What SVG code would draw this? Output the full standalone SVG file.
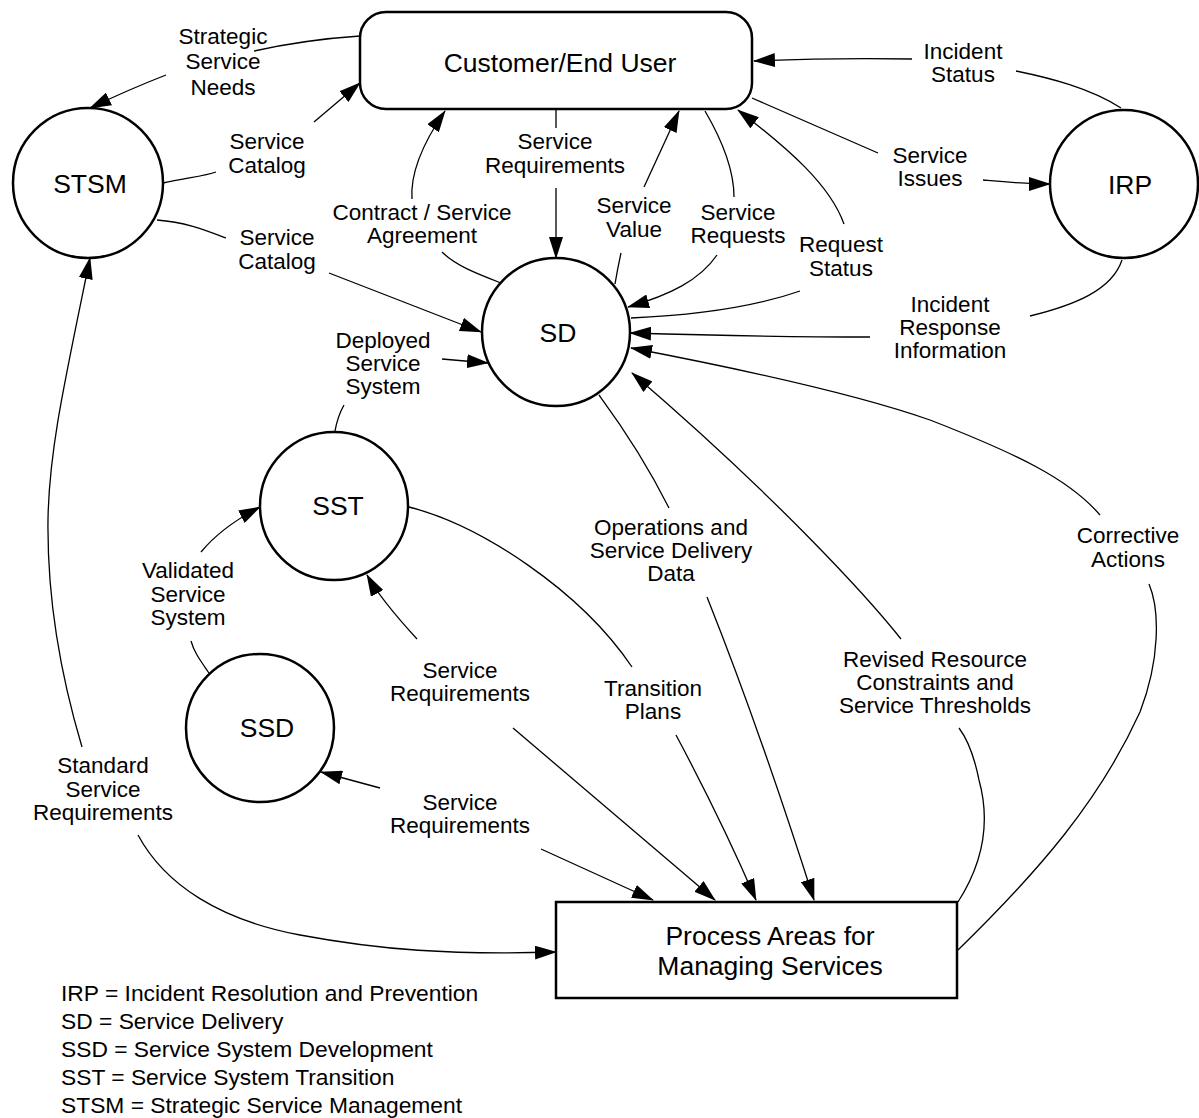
<svg xmlns="http://www.w3.org/2000/svg" width="1199" height="1118" viewBox="0 0 1199 1118">
<defs>
<marker id="arr" markerUnits="userSpaceOnUse" viewBox="0 0 22 14" markerWidth="22" markerHeight="14" refX="21" refY="7" orient="auto">
<path d="M0,0 L22,7 L0,14 z" fill="#000"/>
</marker>
<style>
.node{fill:#fff;stroke:#000;stroke-width:2.5}
.title{font-family:"Liberation Sans",Arial,sans-serif;font-size:26.5px;fill:#000;text-anchor:middle}
.lbl{font-family:"Liberation Sans",Arial,sans-serif;font-size:22.5px;fill:#000;text-anchor:middle}
.leg{font-family:"Liberation Sans",Arial,sans-serif;font-size:22.8px;fill:#000}
.c{fill:none;stroke:#000;stroke-width:1.3}
.a{marker-end:url(#arr)}
</style>
</defs>
<rect width="1199" height="1118" fill="#fff"/>

<g id="connectors">
<path class="c" d="M360,36 C330,38 290,43 254,51"/>
<path class="c a" d="M166,75 Q130,89 90,108"/>
<path class="c" d="M163,183 C185,178 205,176 216,172"/>
<path class="c a" d="M314,122 L360,83"/>
<path class="c" d="M157,220 C185,222 205,230 226,238"/>
<path class="c a" d="M329,273 L481,332"/>
<path class="c" d="M501,283 C475,273 455,265 442,252"/>
<path class="c a" d="M412,199 C410,170 425,140 445,111"/>
<path class="c" d="M556,110 L556,128"/>
<path class="c a" d="M556,188 L556,258"/>
<path class="c" d="M615,284 C617,272 619,262 621,253"/>
<path class="c a" d="M644,187 L679,111"/>
<path class="c" d="M705,111 C722,140 734,170 734,197"/>
<path class="c a" d="M717,255 C700,280 670,295 628,307"/>
<path class="c" d="M631,318 C700,315 760,305 800,291"/>
<path class="c a" d="M844,224 C830,185 790,150 738,110"/>
<path class="c" d="M1121,108 C1090,88 1050,78 1016,71"/>
<path class="c a" d="M912,59 C850,58 800,59 754,61"/>
<path class="c" d="M752,98 L878,153"/>
<path class="c a" d="M983,180 C1005,182 1025,184 1050,184"/>
<path class="c" d="M1122,260 C1112,290 1075,305 1030,316"/>
<path class="c a" d="M870,337 C780,337 700,335 630,333"/>
<path class="c" d="M958,950 C1040,870 1100,800 1140,712 C1160,660 1160,610 1149,584"/>
<path class="c a" d="M1100,515 C1070,480 1020,455 930,420 C850,392 720,365 631,348"/>
<path class="c" d="M958,902 C985,860 990,820 979,780 C975,760 968,740 959,728"/>
<path class="c a" d="M901,639 C870,600 780,500 632,373"/>
<path class="c" d="M599,395 C610,410 640,450 669,508"/>
<path class="c a" d="M707,597 Q760,730 814,900"/>
<path class="c" d="M409,507 C480,525 580,590 632,667"/>
<path class="c a" d="M676,735 C700,780 730,840 756,900"/>
<path class="c a" d="M417,639 C395,615 378,595 367,575"/>
<path class="c a" d="M513,728 L715,900"/>
<path class="c a" d="M380,788 L321,772"/>
<path class="c a" d="M541,849 L653,900"/>
<path class="c" d="M209,673 C200,660 194,652 191,641"/>
<path class="c a" d="M201,552 C215,535 235,520 260,507"/>
<path class="c" d="M335,431 C337,420 340,412 344,405"/>
<path class="c a" d="M442,359 L488,363"/>
<path class="c a" d="M82,747 C62,680 47,600 48,520 C49,450 65,380 90,258"/>
<path class="c a" d="M138,835 C165,885 220,920 300,935 C380,950 450,955 556,952"/>
</g>

<g id="labels">
<text class="lbl" x="223" y="44">Strategic<tspan x="223" y="69">Service</tspan><tspan x="223" y="95">Needs</tspan></text>
<text class="lbl" x="267" y="149">Service<tspan x="267" y="173">Catalog</tspan></text>
<text class="lbl" x="277" y="245">Service<tspan x="277" y="269">Catalog</tspan></text>
<text class="lbl" x="422" y="220">Contract / Service<tspan x="422" y="243">Agreement</tspan></text>
<text class="lbl" x="555" y="149">Service<tspan x="555" y="173">Requirements</tspan></text>
<text class="lbl" x="383" y="348">Deployed<tspan x="383" y="371">Service</tspan><tspan x="383" y="394">System</tspan></text>
<text class="lbl" x="634" y="213">Service<tspan x="634" y="237">Value</tspan></text>
<text class="lbl" x="738" y="220">Service<tspan x="738" y="243">Requests</tspan></text>
<text class="lbl" x="841" y="252">Request<tspan x="841" y="276">Status</tspan></text>
<text class="lbl" x="963" y="59">Incident<tspan x="963" y="82">Status</tspan></text>
<text class="lbl" x="930" y="163">Service<tspan x="930" y="186">Issues</tspan></text>
<text class="lbl" x="950" y="312">Incident<tspan x="950" y="335">Response</tspan><tspan x="950" y="358">Information</tspan></text>
<text class="lbl" x="671" y="535">Operations and<tspan x="671" y="558">Service Delivery</tspan><tspan x="671" y="581">Data</tspan></text>
<text class="lbl" x="1128" y="543">Corrective<tspan x="1128" y="567">Actions</tspan></text>
<text class="lbl" x="935" y="667">Revised Resource<tspan x="935" y="690">Constraints and</tspan><tspan x="935" y="713">Service Thresholds</tspan></text>
<text class="lbl" x="653" y="696">Transition<tspan x="653" y="719">Plans</tspan></text>
<text class="lbl" x="188" y="578">Validated<tspan x="188" y="602">Service</tspan><tspan x="188" y="625">System</tspan></text>
<text class="lbl" x="460" y="678">Service<tspan x="460" y="701">Requirements</tspan></text>
<text class="lbl" x="103" y="773">Standard<tspan x="103" y="797">Service</tspan><tspan x="103" y="820">Requirements</tspan></text>
<text class="lbl" x="460" y="810">Service<tspan x="460" y="833">Requirements</tspan></text>
</g>

<g id="customer">
<rect class="node" x="360" y="12" width="392" height="97" rx="26" ry="26"/>
<text class="title" x="560" y="72">Customer/End User</text>
</g>
<g id="stsm">
<circle class="node" cx="88" cy="183" r="75"/>
<text class="title" x="90" y="193">STSM</text>
</g>
<g id="sd">
<circle class="node" cx="556" cy="332" r="74"/>
<text class="title" x="558" y="342">SD</text>
</g>
<g id="irp">
<circle class="node" cx="1124" cy="184" r="74"/>
<text class="title" x="1130" y="194">IRP</text>
</g>
<g id="sst">
<circle class="node" cx="334" cy="506" r="74"/>
<text class="title" x="338" y="515">SST</text>
</g>
<g id="ssd">
<circle class="node" cx="260" cy="728" r="74"/>
<text class="title" x="267" y="737">SSD</text>
</g>
<g id="process">
<rect class="node" x="556" y="902" width="401" height="96"/>
<text class="title" x="770" y="945">Process Areas for<tspan x="770" y="975">Managing Services</tspan></text>
</g>

<g id="legend">
<text class="leg" x="61" y="1001">IRP = Incident Resolution and Prevention</text>
<text class="leg" x="61" y="1029">SD = Service Delivery</text>
<text class="leg" x="61" y="1057">SSD = Service System Development</text>
<text class="leg" x="61" y="1085">SST = Service System Transition</text>
<text class="leg" x="61" y="1113">STSM = Strategic Service Management</text>
</g>
</svg>
